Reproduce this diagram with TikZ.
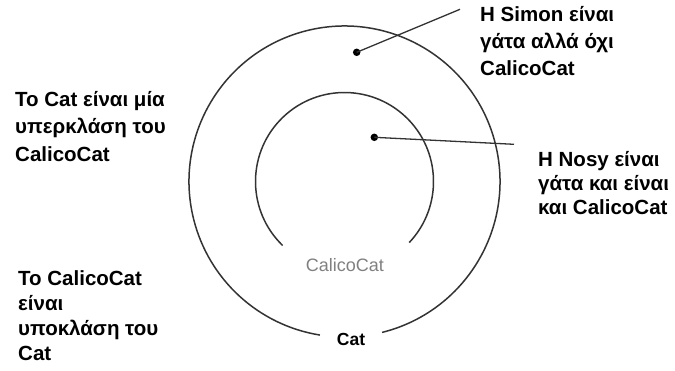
\documentclass[tikz,border=0pt]{standalone}
\usepackage{fontspec}
\setmainfont{Liberation Sans}
\begin{document}
\begin{tikzpicture}[x=1pt,y=1pt,
  ring/.style={line width=1.5pt, draw=black!80},
  dotnode/.style={circle, fill=black, inner sep=0pt, minimum size=7.5pt},
  lead/.style={line width=1.3pt, draw=black!80},
  desc/.style={align=left, anchor=base west, inner sep=0pt},
  ]
\useasboundingbox (0,0) rectangle (675,-370);
\coordinate (c) at (344.5,-181.5);
% outer ring (Cat)
\draw[ring] (c) ++(284:155.5) arc[start angle=284, end angle=620.9, radius=155.5];
% inner ring (CalicoCat)
\draw[ring] (c) ++(-43.3:89) arc[start angle=-43.3, end angle=226, radius=89];
% labels
\node[font=\fontsize{18}{20}\selectfont, text=black!50] (calico) at (345,-265) {CalicoCat};
\node[font=\bfseries\fontsize{17.5}{20}\selectfont] (cat) at (351,-339) {Cat};
% dots and leaders
\node[dotnode] (simondot) at (356.7,-52.3) {};
\coordinate (simonend) at (460,-9.3);
\draw[lead] (simondot.center) -- (simonend);
\node[dotnode] (nosydot) at (374.3,-137.3) {};
\coordinate (nosyend) at (514,-144.3);
\draw[lead] (nosydot.center) -- (nosyend);
% texts (anchored at the baseline of the last line)
\node[desc, font=\bfseries\fontsize{20.5}{27.2}\selectfont] (t1) at (15,-161) {Το Cat είναι μία\\υπερκλάση του\\CalicoCat};
\node[desc, font=\bfseries\fontsize{20.5}{25}\selectfont] (t2) at (18,-360) {Το CalicoCat\\είναι\\υποκλάση του\\Cat};
\node[desc, font=\bfseries\fontsize{20.5}{26.7}\selectfont] (simontext) at (480,-75) {Η Simon είναι\\γάτα αλλά όχι\\CalicoCat};
\node[desc, font=\bfseries\fontsize{20.5}{23.7}\selectfont] (nosytext) at (538,-214) {Η Nosy είναι\\γάτα και είναι\\και CalicoCat};
\end{tikzpicture}
\end{document}
